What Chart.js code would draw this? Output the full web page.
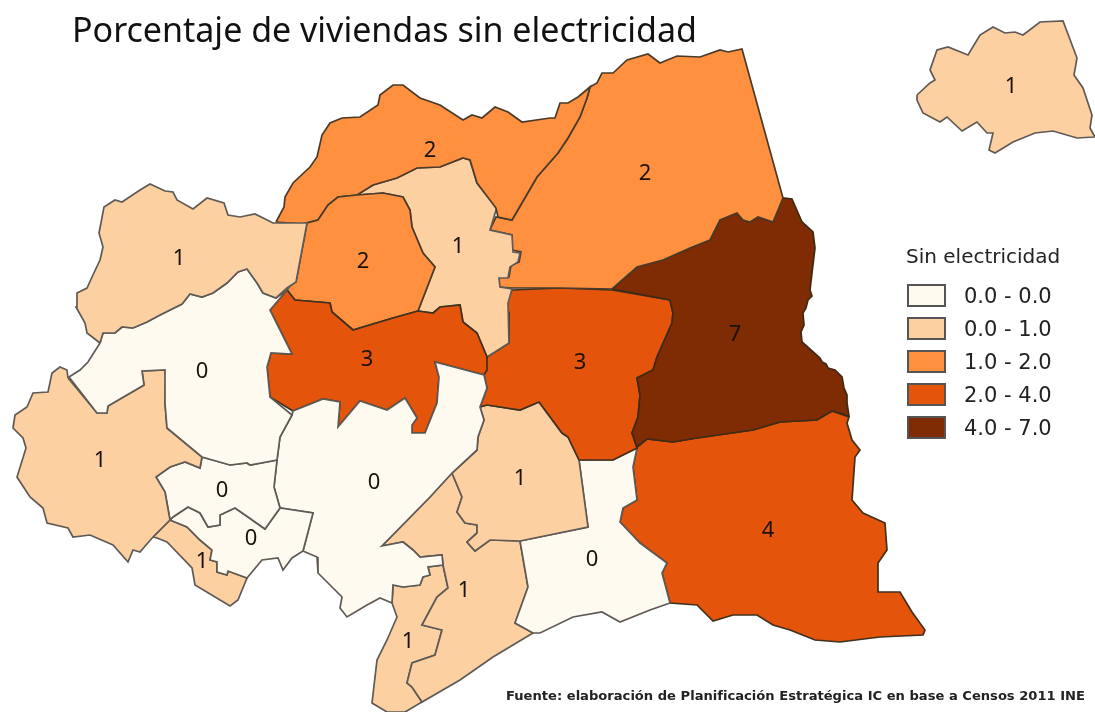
<!DOCTYPE html>
<html lang="es">
<head>
<meta charset="utf-8">
<title>Porcentaje de viviendas sin electricidad</title>
<script src="https://cdn.jsdelivr.net/npm/chart.js@4"></script>
<style>
    html, body { margin: 0; padding: 0; background: #fff; }
    #wrap { position: relative; width: 1095px; height: 712px; overflow: hidden; }
    #wrap canvas { position: absolute; left: 0; top: 0; }
    #map-title { position: absolute; left: 72px; top: 6px; margin: 0; font: 400 34px "Noto Sans", sans-serif; color: #111; white-space: nowrap; }
    #source { position: absolute; left: 506px; top: 688px; font: 700 13.1px "DejaVu Sans", sans-serif; color: #222; white-space: nowrap; }
    #legend { position: absolute; left: 906px; top: 244px; font: 400 21px "DejaVu Sans", sans-serif; color: #222; }
    #legend .head { font-size: 20px; height: 35px; white-space: nowrap; }
    #legend .row { height: 33px; display: flex; align-items: center; white-space: nowrap; }
    #legend .swatch { width: 39px; height: 23px; box-sizing: border-box; border: 2px solid #555; margin-left: 1px; margin-right: 18px; }
</style>
</head>
<body>
<div id="wrap">
    <canvas id="map"></canvas>
    <h1 id="map-title"></h1>
    <div id="legend"></div>
    <div id="source"></div>
</div>
<script>
const TITLE = "Porcentaje de viviendas sin electricidad";
const SOURCE = "Fuente: elaboración de Planificación Estratégica IC en base a Censos 2011 INE";
const LEGEND_TITLE = "Sin electricidad";
const LEGEND_RANGES = ["0.0 - 0.0", "0.0 - 1.0", "1.0 - 2.0", "2.0 - 4.0", "4.0 - 7.0"];
const CLASS_COLORS = ["#fffaf0", "#fdd0a2", "#fe9040", "#e4540a", "#7f2c05"];
const CLASS_BORDERS = ["#5f5a55", "#5f5a55", "#4a3a2a", "#3f3020", "#3f2a15"];

// outlines, in picture coordinates
const northWest = [[100,343],[87,333],[85,323],[76,307],[77,293],[87,288],[92,277],[100,260],[103,247],[99,233],[104,207],[115,200],[122,202],[140,190],[150,184],[165,191],[173,192],[177,200],[193,209],[207,198],[224,203],[228,215],[240,217],[255,214],[273,223],[307,223],[296,282],[287,288],[276,298],[263,293],[257,283],[247,269],[238,272],[227,283],[213,293],[202,297],[190,294],[182,304],[160,315],[147,322],[133,328],[122,327],[115,333],[103,333]];
const westCentre = [[100,343],[88,362],[80,370],[69,377],[97,413],[107,413],[108,406],[144,385],[142,371],[165,370],[165,403],[167,428],[202,457],[230,465],[247,463],[250,465],[277,460],[280,437],[292,415],[270,397],[267,367],[271,353],[292,354],[270,310],[287,290],[276,298],[263,293],[257,283],[247,269],[238,272],[227,283],[213,293],[202,297],[190,294],[182,304],[160,315],[147,322],[133,328],[122,327],[115,333],[103,333]];
const farWest = [[68,378],[97,413],[107,413],[108,406],[144,385],[142,371],[165,370],[166,375],[165,403],[167,428],[202,457],[200,468],[185,462],[170,467],[156,477],[165,492],[170,520],[153,537],[140,552],[133,550],[128,562],[113,545],[90,535],[73,537],[68,528],[47,523],[43,508],[30,497],[17,477],[26,448],[23,438],[13,428],[15,415],[27,407],[33,393],[48,392],[52,373],[60,367],[67,370]];
const innerWest = [[156,477],[170,467],[185,462],[200,468],[202,457],[230,465],[247,463],[250,465],[277,460],[274,487],[280,508],[265,529],[248,517],[235,508],[220,515],[220,525],[208,527],[200,513],[188,507],[173,517],[170,520],[165,492]];
const innerSouth = [[170,520],[173,517],[188,507],[200,513],[208,527],[220,525],[220,515],[235,508],[248,517],[265,529],[280,508],[313,513],[303,551],[292,558],[283,570],[278,558],[262,560],[247,578],[228,571],[227,575],[217,572],[217,562],[210,560],[212,550],[200,540],[187,527]];
const westStrip = [[170,520],[153,537],[157,538],[167,542],[192,568],[195,585],[230,606],[238,600],[247,578],[228,571],[227,575],[217,572],[217,562],[210,560],[212,550],[200,540],[187,527]];
const centre = [[292,415],[280,437],[277,460],[274,487],[280,508],[313,513],[303,551],[317,557],[318,573],[342,597],[340,608],[347,617],[367,605],[380,598],[392,603],[393,585],[403,587],[420,585],[423,577],[430,575],[428,567],[443,565],[442,555],[420,557],[413,550],[403,542],[382,546],[430,497],[452,473],[477,450],[478,437],[484,420],[480,407],[487,388],[484,375],[435,362],[439,377],[437,403],[425,433],[412,433],[412,425],[417,418],[405,398],[387,410],[360,401],[338,427],[340,402],[323,399],[293,411]];
const midWest = [[287,290],[295,300],[330,303],[332,312],[353,330],[393,318],[418,311],[433,313],[440,307],[460,305],[463,322],[477,333],[487,357],[487,370],[484,375],[435,362],[439,377],[437,403],[425,433],[412,433],[412,425],[417,418],[405,398],[387,410],[360,401],[338,427],[340,402],[323,399],[293,411],[270,397],[267,367],[271,353],[292,354],[270,310]];
const midNorth = [[287,283],[296,282],[307,223],[318,220],[328,205],[338,197],[357,195],[383,193],[403,197],[410,210],[412,227],[423,253],[435,267],[418,311],[393,318],[353,330],[332,312],[330,303],[295,300],[287,290]];
const north = [[276,222],[284,207],[285,197],[293,183],[310,167],[317,157],[322,135],[330,123],[342,118],[360,117],[378,105],[380,95],[393,85],[403,85],[420,98],[440,105],[463,120],[472,115],[482,118],[495,107],[508,112],[522,122],[550,118],[555,118],[560,103],[568,103],[578,97],[590,87],[587,98],[580,117],[568,138],[558,153],[537,177],[512,220],[498,217],[496,208],[477,183],[470,160],[463,158],[440,167],[417,168],[397,178],[373,185],[357,195],[338,197],[328,205],[318,220],[302,224]];
const northMiddle = [[357,195],[373,185],[397,178],[417,168],[440,167],[463,158],[470,160],[477,183],[497,207],[490,230],[512,235],[513,252],[520,253],[518,262],[510,267],[508,278],[499,278],[500,287],[512,289],[508,303],[509,343],[487,357],[477,333],[463,322],[460,305],[440,307],[433,313],[418,311],[435,267],[423,253],[412,227],[410,210],[403,197],[383,193]];
const northEast = [[590,87],[597,83],[602,73],[613,73],[627,60],[648,54],[660,63],[677,56],[700,57],[720,50],[728,52],[742,49],[783,198],[773,222],[758,217],[750,222],[743,220],[737,213],[720,220],[710,240],[690,248],[663,260],[637,267],[612,289],[560,288],[512,288],[499,287],[499,277],[509,277],[511,265],[519,262],[521,252],[512,250],[512,235],[490,230],[496,217],[512,220],[537,177],[558,153],[568,138],[580,117],[587,98]];
const east = [[612,289],[637,267],[663,260],[690,248],[710,240],[720,220],[737,213],[743,220],[750,222],[758,217],[773,222],[783,198],[792,199],[802,222],[813,232],[815,248],[812,273],[810,290],[812,296],[808,300],[806,308],[803,313],[804,325],[801,332],[802,342],[820,358],[822,362],[826,364],[828,368],[835,370],[842,377],[844,388],[847,395],[847,403],[849,416],[832,411],[817,420],[780,422],[753,430],[697,438],[673,442],[647,439],[637,447],[632,433],[638,417],[640,395],[637,378],[653,370],[657,357],[672,323],[673,313],[670,300]];
const midEast = [[512,290],[560,288],[612,290],[670,300],[673,313],[672,323],[657,357],[653,370],[637,378],[640,395],[638,417],[632,433],[637,448],[613,460],[579,460],[568,437],[562,433],[539,402],[520,410],[487,405],[480,407],[487,388],[484,375],[487,357],[509,343],[509,313],[505,303]];
const southMiddle = [[480,407],[487,405],[520,410],[539,402],[562,433],[568,437],[579,460],[588,527],[520,541],[490,540],[475,551],[467,542],[477,533],[477,525],[465,523],[457,512],[462,497],[452,473],[477,450],[478,437],[484,420]];
const southCoast = [[579,460],[613,460],[637,448],[633,467],[637,500],[623,508],[620,522],[640,543],[667,563],[662,573],[670,603],[650,610],[620,622],[602,612],[573,617],[540,633],[533,633],[515,623],[528,587],[520,541],[588,527]];
const southEast = [[637,447],[647,439],[673,442],[697,438],[753,430],[780,422],[817,420],[832,411],[849,417],[847,423],[852,440],[860,450],[855,457],[852,500],[863,513],[885,523],[887,550],[878,563],[878,592],[900,592],[912,612],[925,630],[923,635],[880,637],[840,642],[815,640],[790,630],[773,625],[757,615],[733,615],[713,621],[697,605],[670,603],[662,573],[667,563],[640,543],[620,522],[623,508],[637,500],[633,467]];
const south = [[382,546],[430,497],[452,473],[462,497],[457,512],[465,523],[477,525],[477,533],[467,542],[475,551],[490,540],[520,541],[528,587],[515,623],[533,633],[493,657],[460,680],[422,702],[412,687],[407,683],[412,663],[435,655],[442,630],[422,625],[437,597],[448,588],[443,565],[442,555],[420,557],[413,550],[403,542]];
const southWest = [[393,585],[403,587],[420,585],[423,577],[430,575],[428,567],[443,565],[448,588],[437,597],[422,625],[442,630],[435,655],[412,663],[407,683],[412,687],[422,702],[405,712],[387,712],[372,703],[377,660],[387,640],[397,617],[392,603]];
const island = [[917,95],[930,83],[935,80],[930,70],[937,50],[948,47],[968,55],[980,35],[993,27],[1005,33],[1015,32],[1023,35],[1040,22],[1063,21],[1077,58],[1074,75],[1083,88],[1092,115],[1090,128],[1095,137],[1077,138],[1053,131],[1035,133],[1013,142],[995,153],[989,150],[993,133],[987,133],[977,122],[962,131],[947,117],[940,122],[923,113],[917,100]];

const REGIONS = [northWest, westCentre, farWest, innerWest, innerSouth, westStrip, centre, midWest, midNorth, north, northMiddle, northEast, east, midEast, southMiddle, southCoast, southEast, south, southWest, island];
const REGION_VALUES = [1, 0, 1, 0, 0, 1, 0, 3, 2, 2, 1, 2, 7, 3, 1, 0, 4, 1, 1, 1];
const REGION_CLASSES = [1, 0, 1, 0, 0, 1, 0, 3, 2, 2, 1, 2, 4, 3, 1, 0, 3, 1, 1, 1];
const LABEL_X = [179, 202, 100, 222, 251, 202, 374, 367, 363, 430, 458, 645, 735, 580, 520, 592, 768, 464, 408, 1011];
const LABEL_Y = [259, 372, 461, 491, 539, 562, 483, 360, 262, 151, 247, 174, 335, 363, 479, 560, 531, 591, 642, 87];

document.getElementById('map-title').textContent = TITLE;
document.getElementById('source').textContent = SOURCE;

const legendBox = document.getElementById('legend');
legendBox.innerHTML = `<div class="head">${LEGEND_TITLE}</div>`;
LEGEND_RANGES.forEach((range, i) => {
    legendBox.innerHTML += `<div class="row"><span class="swatch" style="background:${CLASS_COLORS[i]}"></span>${range}</div>`;
});

// region numbers, placed through the chart's own scales
const regionLabels = {
    id: 'regionLabels',
    afterDatasetsDraw(chart) {
        const { ctx, scales } = chart;
        ctx.save();
        ctx.font = '22px "Noto Sans", sans-serif';
        ctx.fillStyle = '#1a1208';
        ctx.textAlign = 'center';
        ctx.textBaseline = 'middle';
        REGION_VALUES.forEach((value, i) => {
            ctx.fillText(String(value), scales.x.getPixelForValue(LABEL_X[i]), scales.y.getPixelForValue(LABEL_Y[i]));
        });
        ctx.restore();
    }
};

new Chart(document.getElementById('map'), {
    type: 'scatter',
    data: {
        datasets: REGIONS.map((outline, i) => ({
            data: outline.concat([outline[0]]).map(p => ({ x: p[0], y: p[1] })),
            showLine: true,
            fill: 'shape',
            backgroundColor: CLASS_COLORS[REGION_CLASSES[i]],
            borderColor: CLASS_BORDERS[REGION_CLASSES[i]],
            borderWidth: 1.7,
            pointRadius: 0,
            tension: 0
        }))
    },
    options: {
        responsive: true,
        maintainAspectRatio: false,
        animation: false,
        layout: { padding: 0 },
        plugins: { legend: { display: false }, tooltip: { enabled: false } },
        scales: {
            x: { type: 'linear', display: false, min: 0, max: 1095 },
            y: { type: 'linear', display: false, min: 0, max: 712, reverse: true }
        }
    },
    plugins: [regionLabels]
});
</script>
</body>
</html>
